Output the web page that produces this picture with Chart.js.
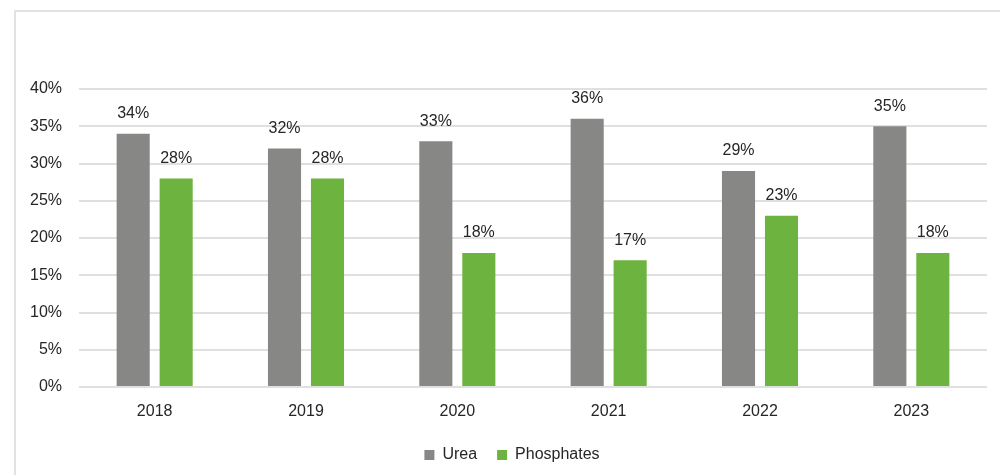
<!DOCTYPE html>
<html>
<head>
<meta charset="utf-8">
<script src="https://cdn.jsdelivr.net/npm/chart.js@4"></script>
<style>
  html, body { margin: 0; padding: 0; background: #fff; }
  #wrap { position: relative; width: 1000px; height: 475px; overflow: hidden; }
  #frame { position: absolute; left: 14px; top: 10px; width: 1000px; height: 500px;
           border-left: 2px solid #e2e2e2; border-top: 2px solid #e2e2e2; box-sizing: border-box; }
  canvas { position: absolute; left: 0; top: 0; }
</style>
</head>
<body>
<div id="wrap">
  <div id="frame"></div>
  <canvas id="c" width="1000" height="475"></canvas>
</div>
<script>
// Years on the category axis
const years = ['2018', '2019', '2020', '2021', '2022', '2023'];
// Share per product, in percent
const urea = [34, 32, 33, 36, 29, 35];
const phosphates = [28, 28, 18, 17, 23, 18];
// Value axis
const yMin = 0;
const yMax = 40;
const yStep = 5;

const FONT = "'Liberation Sans', Arial, Helvetica, sans-serif";
const TEXT = '#262626';

// Writes each bar's value above it
const valueLabels = {
  id: 'valueLabels',
  afterDatasetsDraw(chart) {
    const ctx = chart.ctx;
    ctx.save();
    ctx.font = '16px ' + FONT;
    ctx.fillStyle = TEXT;
    ctx.textAlign = 'center';
    ctx.textBaseline = 'middle';
    chart.data.datasets.forEach((ds, i) => {
      chart.getDatasetMeta(i).data.forEach((bar, j) => {
        ctx.fillText(ds.data[j] + '%', bar.x, bar.y - 20);
      });
    });
    ctx.restore();
  }
};

// Centres the legend on the framed panel
const legendCentre = {
  id: 'legendCentre',
  afterLayout(chart, args, opts) {
    const lg = chart.legend;
    if (!lg) return;
    const shift = opts.centerX - (lg.left + lg.right) / 2;
    lg.left += shift;
    lg.right += shift;
  }
};

new Chart(document.getElementById('c'), {
  type: 'bar',
  data: {
    labels: years,
    datasets: [
      { label: 'Urea', data: urea, backgroundColor: '#878786' },
      { label: 'Phosphates', data: phosphates, backgroundColor: '#6db33f' }
    ]
  },
  options: {
    responsive: false,
    animation: false,
    devicePixelRatio: 1,
    categoryPercentage: 0.568,
    barPercentage: 0.77,
    layout: { padding: { left: 0, top: 89, right: 13, bottom: 2 } },
    scales: {
      x: {
        afterFit(scale) { scale.height = 40; },
        grid: { display: false },
        border: { display: false },
        ticks: { color: TEXT, font: { family: FONT, size: 16 }, padding: 7 }
      },
      y: {
        min: yMin,
        max: yMax,
        afterFit(scale) { scale.width = 79; },
        grid: { color: '#e0e0e0', lineWidth: 2, drawTicks: false },
        border: { display: false },
        ticks: {
          stepSize: yStep,
          padding: 17,
          color: TEXT,
          font: { family: FONT, size: 16 },
          callback: v => v + '%'
        }
      }
    },
    plugins: {
      legendCentre: { centerX: 512 },
      legend: {
        position: 'bottom',
        labels: {
          boxWidth: 10,
          boxHeight: 10,
          padding: 20,
          color: TEXT,
          font: { family: FONT, size: 16 }
        }
      },
      tooltip: { enabled: false }
    }
  },
  plugins: [valueLabels, legendCentre]
});
</script>
</body>
</html>
